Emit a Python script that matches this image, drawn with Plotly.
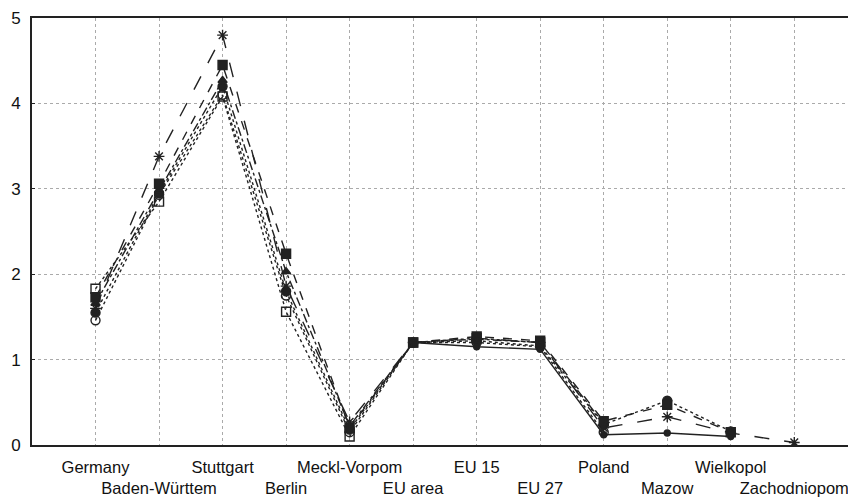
import plotly.graph_objects as go

categories = ["Germany", "Baden-Württem", "Stuttgart", "Berlin", "Meckl-Vorpom", "EU area",
              "EU 15", "EU 27", "Poland", "Mazow", "Wielkopol", "Zachodniopom"]

s_star = [1.60, 3.38, 4.80, 1.86, 0.27, 1.20, 1.25, 1.20, 0.20, 0.33, 0.14, 0.03]
s_fsq = [1.73, 3.06, 4.45, 2.24, 0.20, 1.20, 1.27, 1.22, 0.28, 0.47, 0.15, None]
s_tri = [1.66, 2.98, 4.27, 2.03, 0.22, 1.20, 1.24, 1.20, 0.25, None, None, None]
s_osq = [1.83, 2.85, 4.08, 1.56, 0.10, 1.20, 1.25, 1.20, None, None, None, None]
s_ocir = [1.46, 2.93, 4.10, 1.75, 0.15, 1.20, 1.20, 1.15, 0.15, None, None, None]
s_fcir = [1.55, 2.95, 4.20, 1.80, 0.18, 1.20, 1.22, 1.16, 0.24, 0.52, 0.16, None]
s_solid = [None, None, None, None, None, 1.20, 1.15, 1.12, 0.12, 0.14, 0.10, None]

yticks = [0, 1, 2, 3, 4, 5]

series = [
    (s_solid, "circle", "solid", 6),
    (s_fcir, "circle", "dot", 9),
    (s_tri, "triangle-up", "dashdot", 8),
    (s_fsq, "square", "dash", 9),
    (s_star, "asterisk-open", "longdash", 9),
    (s_osq, "square-open", "dot", 9),
    (s_ocir, "circle-open", "dot", 9),
]

x = list(range(len(categories)))
fig = go.Figure()
for vals, sym, dash, size in series:
    fig.add_trace(go.Scatter(
        x=x, y=vals, mode="lines+markers", connectgaps=False,
        line=dict(color="#222222", width=1.4, dash=dash),
        marker=dict(symbol=sym, size=size, color="#222222",
                    line=dict(color="#222222", width=1.4)),
        showlegend=False,
    ))

ticktext = [c if i % 2 == 0 else "<br>" + c for i, c in enumerate(categories)]

fig.update_layout(
    width=848, height=494,
    margin=dict(l=24, r=2, t=10, b=57),
    paper_bgcolor="white", plot_bgcolor="white",
    font=dict(family="Liberation Sans, Arial, sans-serif", size=16, color="#111111"),
)
fig.update_xaxes(
    range=[-1, 11.94], tickvals=x, ticktext=ticktext, tickangle=0, automargin=False,
    showgrid=True, gridcolor="#aaaaaa", griddash="dot", gridwidth=1,
    showline=True, linecolor="#222222", linewidth=2, mirror=True,
    ticks="", zeroline=False, tickfont=dict(size=16.5), ticklabelstandoff=6,
    ticklabeloverflow="allow",
)
fig.update_yaxes(
    range=[0, 5], tickvals=yticks, ticktext=[str(v) for v in yticks], automargin=False,
    showgrid=True, gridcolor="#aaaaaa", griddash="dot", gridwidth=1,
    showline=True, linecolor="#222222", linewidth=2,
    ticks="inside", ticklen=3, tickcolor="#222222", zeroline=False,
    tickfont=dict(size=17), ticklabelstandoff=6, ticklabeloverflow="allow",
)

fig.write_html("out.html")
